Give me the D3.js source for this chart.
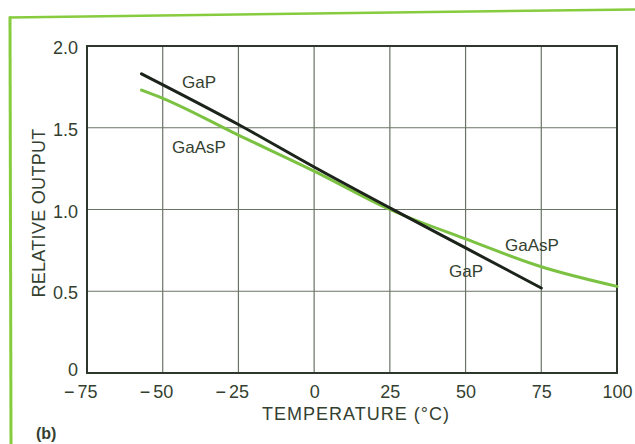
<!DOCTYPE html>
<html>
<head>
<meta charset="utf-8">
<script src="https://cdn.jsdelivr.net/npm/d3@7"></script>
<style>
  html, body { margin: 0; padding: 0; background: #ffffff; }
  svg { display: block; }
  text { font-family: "Liberation Sans", Arial, sans-serif; fill: #343f30; }
</style>
</head>
<body>
<svg id="chart" width="635" height="444"></svg>
<script>
// Temperature ticks (°C) and relative-output ticks
const xTicks = [-75, -50, -25, 0, 25, 50, 75, 100];
const yTicks = [0, 0.5, 1.0, 1.5, 2.0];

// GaP: relative output vs temperature
const gapTemps  = [-57, -25, 0, 25, 50, 75];
const gapValues = [1.83, 1.52, 1.26, 1.01, 0.765, 0.52];

// GaAsP: relative output vs temperature
const gaaspTemps  = [-57, -50, -25, 0, 25, 50, 75, 100];
const gaaspValues = [1.73, 1.68, 1.455, 1.235, 1.0, 0.82, 0.65, 0.53];

const svg = d3.select("#chart");
const W = 635, H = 444;
const m = { left: 87, right: 617, top: 46, bottom: 373 };

const x = d3.scaleLinear().domain([-75, 100]).range([m.left, m.right]);
const y = d3.scaleLinear().domain([0, 2.0]).range([m.bottom, m.top]);

// page frame accent (green rules on top and left)
svg.append("line")
  .attr("x1", 9).attr("y1", 17.5).attr("x2", W).attr("y2", 9.5)
  .attr("stroke", "#86cc3e").attr("stroke-width", 2.5);
svg.append("line")
  .attr("x1", 10).attr("y1", 16.5).attr("x2", 11).attr("y2", H)
  .attr("stroke", "#86cc3e").attr("stroke-width", 3);

// grid
const grid = svg.append("g").attr("stroke", "#6a7466").attr("stroke-width", 1.2);
grid.selectAll("line.v").data(xTicks.slice(1, -1)).join("line")
  .attr("x1", d => x(d)).attr("x2", d => x(d))
  .attr("y1", m.top).attr("y2", m.bottom);
grid.selectAll("line.h").data(yTicks.slice(1, -1)).join("line")
  .attr("y1", d => y(d)).attr("y2", d => y(d))
  .attr("x1", m.left).attr("x2", m.right);

// plot border
svg.append("rect")
  .attr("x", m.left).attr("y", m.top)
  .attr("width", m.right - m.left).attr("height", m.bottom - m.top)
  .attr("fill", "none").attr("stroke", "#2e372b").attr("stroke-width", 2);

// x axis: digits centred on the gridline, minus sign hanging to the left
const xAxis = svg.append("g")
  .attr("transform", `translate(0,${m.bottom})`)
  .call(d3.axisBottom(x).tickValues(xTicks).tickFormat(d => String(Math.abs(d))).tickSize(0));
xAxis.select(".domain").remove();
xAxis.selectAll(".tick text")
  .attr("y", 25).attr("dy", null)
  .attr("font-size", 18).attr("font-family", "Liberation Sans, Arial, sans-serif").attr("fill", "#343f30");
xAxis.selectAll(".tick").each(function(d) {
  if (d >= 0) return;
  const g = d3.select(this);
  const w = g.select("text").node().getComputedTextLength();
  g.append("text")
    .attr("x", -w / 2 - 3).attr("y", 25)
    .attr("text-anchor", "end").attr("font-size", 18)
    .attr("font-family", "Liberation Sans, Arial, sans-serif").attr("fill", "#343f30")
    .text("\u2212");
});

// y axis labels
const yAxis = svg.append("g")
  .attr("transform", `translate(${m.left},0)`)
  .call(d3.axisLeft(y).tickValues(yTicks).tickFormat(d => d === 0 ? "0" : d3.format(".1f")(d)).tickSize(0).tickPadding(9));
yAxis.select(".domain").remove();
yAxis.selectAll(".tick text")
  .attr("dy", d => d === 0 ? 2 : 7.5)
  .attr("font-size", 18).attr("font-family", "Liberation Sans, Arial, sans-serif").attr("fill", "#343f30");

// axis titles
svg.append("text")
  .attr("x", 356).attr("y", 420)
  .attr("text-anchor", "middle").attr("font-size", 18)
  .attr("letter-spacing", 1)
  .text("TEMPERATURE (\u00B0C)");
svg.append("text")
  .attr("transform", "translate(45,213) rotate(-90)")
  .attr("text-anchor", "middle").attr("font-size", 18)
  .attr("letter-spacing", 0.3)
  .text("RELATIVE OUTPUT");

svg.append("text")
  .attr("x", 36).attr("y", 439).attr("font-size", 16).attr("font-weight", "bold")
  .text("(b)");

// curves
const line = d3.line().x(d => x(d[0])).y(d => y(d[1])).curve(d3.curveMonotoneX);

svg.append("path")
  .datum(d3.zip(gaaspTemps, gaaspValues))
  .attr("d", line)
  .attr("fill", "none").attr("stroke", "#7cc242").attr("stroke-width", 3)
  .attr("stroke-linecap", "round");

svg.append("path")
  .datum(d3.zip(gapTemps, gapValues))
  .attr("d", line)
  .attr("fill", "none").attr("stroke", "#1b231b").attr("stroke-width", 3)
  .attr("stroke-linecap", "round");

// series labels
const labels = [
  { t: "GaP",   x: 182, y: 88 },
  { t: "GaAsP", x: 172, y: 153 },
  { t: "GaAsP", x: 505, y: 251 },
  { t: "GaP",   x: 449, y: 277 }
];
svg.selectAll("text.lbl").data(labels).join("text")
  .attr("class", "lbl")
  .attr("x", d => d.x).attr("y", d => d.y)
  .attr("font-size", 17)
  .text(d => d.t);
</script>
</body>
</html>
